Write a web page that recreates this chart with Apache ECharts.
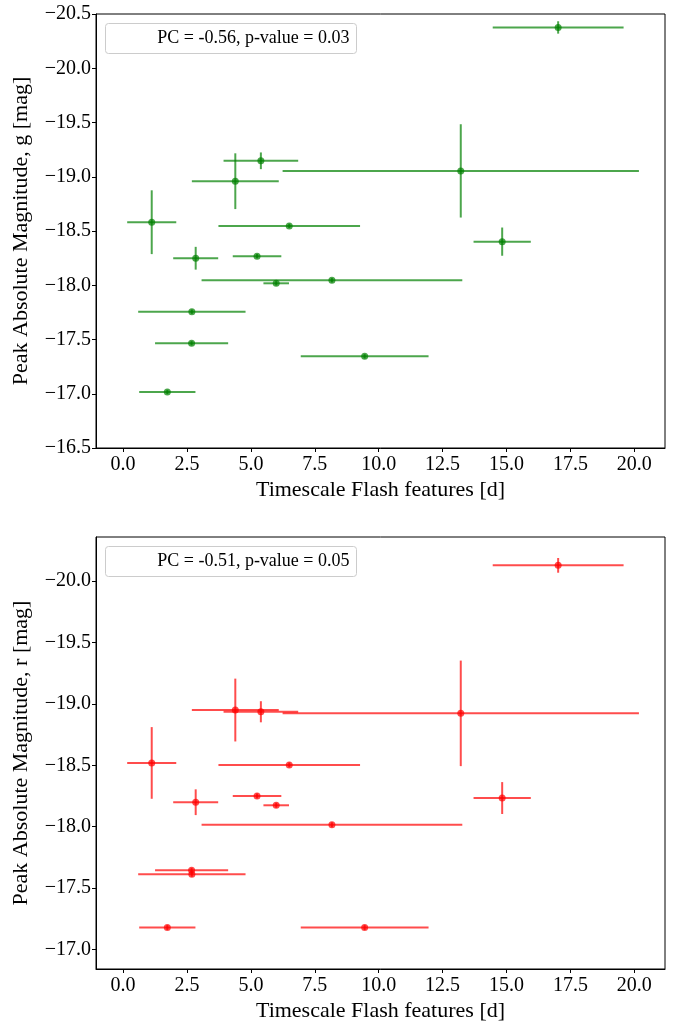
<!DOCTYPE html>
<html>
<head>
<meta charset="utf-8">
<script src="https://cdn.jsdelivr.net/npm/echarts@6/dist/echarts.min.js"></script>
<style>
  html, body { margin: 0; padding: 0; background: #fff; }
  #chart { width: 673px; height: 1023px; }
</style>
</head>
<body>
<div id="chart"></div>
<script>
// Flash timescale (days) and its uncertainty, shared by both bands
const timescale = [17.02, 5.39, 4.39, 13.21, 1.12, 6.50, 14.83, 2.84, 5.24, 8.17, 5.99, 2.69, 2.68, 9.45, 1.73];
const timescaleErr = [2.56, 1.46, 1.70, 6.97, 0.96, 2.77, 1.12, 0.88, 0.95, 5.10, 0.50, 2.10, 1.43, 2.50, 1.10];

// Peak absolute magnitude, g band
const gPeak = [-20.376, -19.147, -18.959, -19.054, -18.581, -18.547, -18.402, -18.249, -18.268, -18.046, -18.018, -17.756, -17.465, -17.345, -17.016];
const gPeakErr = [0.057, 0.077, 0.257, 0.43, 0.294, 0.02, 0.13, 0.105, 0.02, 0.02, 0.02, 0.02, 0.02, 0.02, 0.02];

// Peak absolute magnitude, r band
const rPeak = [-20.129, -18.936, -18.95, -18.923, -18.519, -18.503, -18.233, -18.199, -18.250, -18.015, -18.174, -17.612, -17.644, -17.178, -17.178];
const rPeakErr = [0.06, 0.086, 0.256, 0.43, 0.292, 0.02, 0.13, 0.105, 0.02, 0.02, 0.02, 0.02, 0.02, 0.02, 0.02];

// Tick values
const xTicks = [0, 2.5, 5, 7.5, 10, 12.5, 15, 17.5, 20];
const gTicks = [-20.5, -20, -19.5, -19, -18.5, -18, -17.5, -17, -16.5];
const rTicks = [-20, -19.5, -19, -18.5, -18, -17.5, -17];

// Correlation annotations
const gNote = 'PC = -0.56, p-value = 0.03';
const rNote = 'PC = -0.51, p-value = 0.05';

const FONT = '"Liberation Serif", "DejaVu Serif", serif';
const GREEN = '#008000';
const RED = '#ff0000';

function fmt(v) {
  return (v < 0 ? '\u2212' : '') + Math.abs(v).toFixed(1);
}

function rows(ys, yErr) {
  return timescale.map((x, i) => [x, ys[i], timescaleErr[i], yErr[i]]);
}

function errorBars(renderColor) {
  return function (params, api) {
    const x = api.value(0), y = api.value(1), xe = api.value(2), ye = api.value(3);
    const l = api.coord([x - xe, y]);
    const r = api.coord([x + xe, y]);
    const t = api.coord([x, y - ye]);
    const b = api.coord([x, y + ye]);
    const style = { stroke: renderColor, lineWidth: 2, opacity: 0.7 };
    return {
      type: 'group',
      children: [
        { type: 'line', shape: { x1: l[0], y1: l[1], x2: r[0], y2: r[1] }, style: style },
        { type: 'line', shape: { x1: t[0], y1: t[1], x2: b[0], y2: b[1] }, style: style }
      ]
    };
  };
}

function xAxisDef(gridIndex) {
  return {
    type: 'value', gridIndex: gridIndex, min: -1.06, max: 21.2,
    name: 'Timescale Flash features [d]', nameLocation: 'middle', nameGap: 31,
    nameTextStyle: { fontFamily: FONT, fontSize: 22, color: '#000' },
    axisLine: { show: true, onZero: false, lineStyle: { color: '#000', width: 1 } },
    axisTick: { show: true, length: 4, lineStyle: { color: '#000' }, customValues: xTicks },
    axisLabel: { show: true, fontFamily: FONT, fontSize: 20, color: '#000', margin: 7, customValues: xTicks, formatter: fmt },
    splitLine: { show: false }
  };
}

function yAxisDef(gridIndex, min, max, ticks, band) {
  return {
    type: 'value', gridIndex: gridIndex, min: min, max: max, inverse: true,
    name: 'Peak Absolute Magnitude, ' + band + ' [mag]', nameLocation: 'middle', nameGap: 64, nameRotate: 90,
    nameTextStyle: { fontFamily: FONT, fontSize: 22, color: '#000' },
    axisLine: { show: true, onZero: false, lineStyle: { color: '#000', width: 1 } },
    axisTick: { show: true, length: 4, lineStyle: { color: '#000' }, customValues: ticks },
    axisLabel: { show: true, fontFamily: FONT, fontSize: 20, color: '#000', margin: 5, customValues: ticks, formatter: fmt },
    splitLine: { show: false }
  };
}

function noteBox(top, text) {
  return {
    type: 'group', left: 105, top: top,
    children: [
      { type: 'rect', shape: { x: 0, y: 0, width: 251, height: 30, r: 3 },
        style: { fill: 'rgba(255,255,255,0.8)', stroke: '#cccccc', lineWidth: 1 } },
      { type: 'text', x: 244, y: 15,
        style: { text: text, font: '18px ' + FONT, fill: '#000', align: 'right', verticalAlign: 'middle' } }
    ]
  };
}

const chart = echarts.init(document.getElementById('chart'), null, { renderer: 'canvas' });
chart.setOption({
  animation: false,
  backgroundColor: '#fff',
  grid: [
    { left: 96, top: 14, width: 569, height: 434, show: true, borderColor: '#000', borderWidth: 1 },
    { left: 96, top: 537, width: 569, height: 435, show: true, borderColor: '#000', borderWidth: 1 }
  ],
  xAxis: [xAxisDef(0), xAxisDef(1)],
  yAxis: [
    yAxisDef(0, -20.5, -16.5, gTicks, 'g'),
    yAxisDef(1, -20.36, -16.84, rTicks, 'r')
  ],
  series: [
    { type: 'custom', xAxisIndex: 0, yAxisIndex: 0, data: rows(gPeak, gPeakErr),
      encode: { x: 0, y: 1 }, renderItem: errorBars(GREEN), z: 2 },
    { type: 'scatter', xAxisIndex: 0, yAxisIndex: 0, data: rows(gPeak, gPeakErr),
      encode: { x: 0, y: 1 }, symbolSize: 7, itemStyle: { color: GREEN, opacity: 0.7 }, z: 3 },
    { type: 'custom', xAxisIndex: 1, yAxisIndex: 1, data: rows(rPeak, rPeakErr),
      encode: { x: 0, y: 1 }, renderItem: errorBars(RED), z: 2 },
    { type: 'scatter', xAxisIndex: 1, yAxisIndex: 1, data: rows(rPeak, rPeakErr),
      encode: { x: 0, y: 1 }, symbolSize: 7, itemStyle: { color: RED, opacity: 0.7 }, z: 3 }
  ],
  graphic: [noteBox(23, gNote), noteBox(546, rNote)]
});
</script>
</body>
</html>
